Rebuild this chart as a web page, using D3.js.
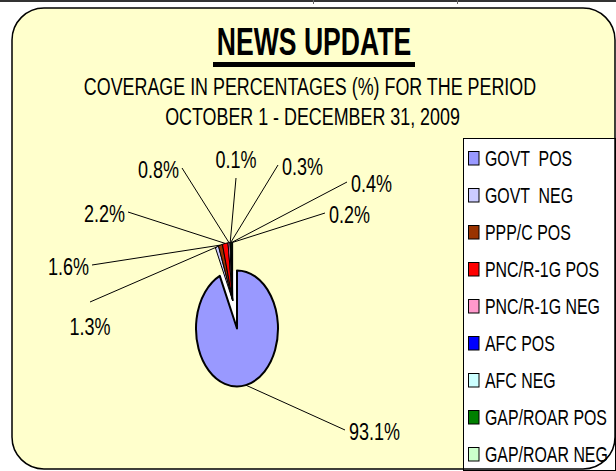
<!DOCTYPE html>
<html lang="en">
<head>
  <meta charset="UTF-8">
  <title>News Update</title>
  <script src="https://cdn.jsdelivr.net/npm/d3@7/dist/d3.min.js"></script>
  <style>
    body { margin: 0; background: #fff; }
    text { font-family: "Liberation Sans", Arial, sans-serif; fill: #000; white-space: pre; }
  </style>
</head>
<body>
  <script>
    // data
    const categories = ['GOVT  POS', 'GOVT  NEG', 'PPP/C POS', 'PNC/R-1G POS', 'PNC/R-1G NEG',
                        'AFC POS', 'AFC NEG', 'GAP/ROAR POS', 'GAP/ROAR NEG'];
    const shares = [93.1, 1.3, 1.6, 2.2, 0.8, 0.1, 0.3, 0.4, 0.2];
    const colors = ['#9999FF', '#CCCCFF', '#993300', '#FF0000', '#FF99CC',
                    '#0000FF', '#CCFFFF', '#008000', '#CCFFCC'];
    const titleText = 'NEWS UPDATE';
    const subtitleLines = ['COVERAGE IN PERCENTAGES (%) FOR THE PERIOD', 'OCTOBER 1 - DECEMBER 31, 2009'];

    // hand placed label spots (end of leader line), like the original sheet
    const labelSpots = [
      [345, 430, 'start'], [90, 302, 'below'], [92, 265, 'end'], [128, 212, 'end'],
      [182, 168, 'end'], [236, 178, 'above'], [278, 165, 'start'], [347, 182, 'start'], [325, 213, 'start']
    ];

    const W = 616, H = 471;
    const squeeze = 0.75;           // the whole picture is narrowed
    const cx = 237, cy = 328.5, r = 58, rx = 41 / 58;

    const svg = d3.select('body').append('svg')
      .attr('width', W).attr('height', H);

    // bits of the sheet border above the chart
    svg.append('rect').attr('x', 0).attr('y', 0).attr('width', W).attr('height', 2).attr('fill', '#333');
    [313, 457].forEach(x => svg.append('rect').attr('x', x).attr('y', 0).attr('width', 1).attr('height', 4).attr('fill', '#666'));

    // background panel
    svg.append('rect')
      .attr('x', 12).attr('y', 8).attr('width', 603).attr('height', 461)
      .attr('rx', 32).attr('ry', 32)
      .attr('fill', '#FFFFCC');

    function squeezed(str, x, y, size, anchor, sx = squeeze) {
      return svg.append('text')
        .attr('transform', `translate(${x},${y}) scale(${sx},1)`)
        .attr('text-anchor', anchor)
        .style('font-size', size + 'px')
        .text(str);
    }

    // titles
    squeezed(titleText, 314, 55, 38, 'middle', 0.70).style('font-weight', 'bold');
    svg.append('rect').attr('x', 213).attr('y', 62).attr('width', 202).attr('height', 5).attr('fill', '#000');
    squeezed(subtitleLines[0], 310, 95, 24.5, 'middle', 0.73);
    squeezed(subtitleLines[1], 312.5, 125, 24.5, 'middle', 0.73);

    // pie
    const pieRes = d3.pie().sort(null).value(d => d)(shares);
    const arcGen = d3.arc().innerRadius(0).outerRadius(r);

    const restStart = pieRes[1].startAngle;
    const restMid = (restStart + 2 * Math.PI) / 2;
    const pull = 28.7;
    const ox = pull * Math.sin(restMid), oy = -pull * Math.cos(restMid);

    const g = svg.append('g').attr('transform', `translate(${cx},${cy}) scale(${rx},1)`);

    // the gap left by the pulled out slices shows white
    g.append('path')
      .attr('d', arcGen({startAngle: restStart, endAngle: 2 * Math.PI}))
      .attr('fill', '#fff');

    pieRes.forEach((p, i) => {
      g.append('path')
        .attr('d', arcGen(p))
        .attr('transform', i > 0 ? `translate(${ox},${oy})` : null)
        .attr('fill', colors[i])
        .attr('stroke', '#000')
        .attr('stroke-width', i === 0 ? 2 : 1)
        .attr('stroke-linejoin', 'round')
        .attr('vector-effect', 'non-scaling-stroke');
    });

    // leader lines + labels
    pieRes.forEach((p, i) => {
      const a = (p.startAngle + p.endAngle) / 2;
      const dx = i > 0 ? ox : 0, dy = i > 0 ? oy : 0;
      const x0 = cx + rx * (dx + r * Math.sin(a));
      const y0 = cy + dy - r * Math.cos(a);
      const [lx, ly, how] = labelSpots[i];
      svg.append('line')
        .attr('x1', x0).attr('y1', y0).attr('x2', lx).attr('y2', ly)
        .attr('stroke', '#000').attr('stroke-width', 1);
      const txt = d3.format('.1f')(shares[i]) + '%';
      if (how === 'start') squeezed(txt, lx + 4, ly + 10, 24, 'start');
      else if (how === 'end') squeezed(txt, lx - 3, ly + 10, 24, 'end');
      else if (how === 'above') squeezed(txt, lx, ly - 10, 24, 'middle');
      else squeezed(txt, lx, ly + 33, 24, 'middle');
    });

    // legend
    svg.append('rect')
      .attr('x', 463.5).attr('y', 138.5).attr('width', 152).attr('height', 332)
      .attr('fill', '#fff').attr('stroke', '#000').attr('stroke-width', 1);
    categories.forEach((c, i) => {
      const yc = 158.5 + 37 * i;
      svg.append('rect')
        .attr('x', 468.5).attr('y', yc - 7).attr('width', 10.5).attr('height', 13.5)
        .attr('fill', colors[i]).attr('stroke', '#000').attr('stroke-width', 1);
      squeezed(c, 485, yc + 7.7, 21.5, 'start', 0.74);
    });

    // panel outline drawn last so its corner cuts over the legend
    svg.append('rect')
      .attr('x', 12).attr('y', 8).attr('width', 603).attr('height', 461)
      .attr('rx', 32).attr('ry', 32)
      .attr('fill', 'none').attr('stroke', '#000').attr('stroke-width', 1.5);
  </script>
</body>
</html>
